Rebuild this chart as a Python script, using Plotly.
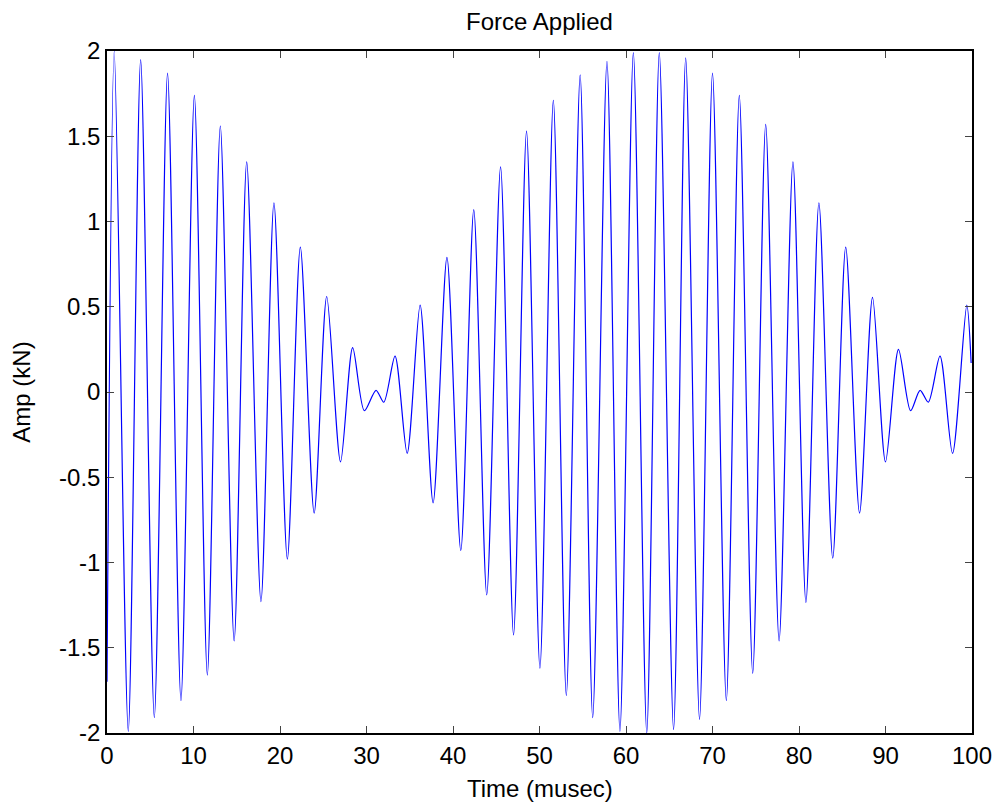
import plotly.graph_objects as go

# Extrema (time in musec, amplitude in kN)
time_us = [0, 0.84, 2.46, 3.89, 5.47, 7.0, 8.55, 10.1, 11.6, 13.1, 14.7, 16.15, 17.8, 19.3,
           20.85, 22.35, 23.95, 25.4, 27.0, 28.4, 29.75, 31.1, 32.0, 33.3, 34.7, 36.2, 37.7,
           39.3, 40.9, 42.4, 43.9, 45.5, 47.0, 48.5, 50.05, 51.6, 53.1, 54.7, 56.15, 57.8,
           59.3, 60.85, 62.4, 63.85, 65.5, 66.9, 68.5, 70.0, 71.6, 73.1, 74.65, 76.15, 77.7,
           79.3, 80.8, 82.3, 83.9, 85.4, 87.0, 88.5, 90.0, 91.5, 92.9, 94.0, 94.95, 96.3,
           97.75, 99.4, 99.9]
amp_kn = [-1.7, 2.0, -1.99, 1.95, -1.91, 1.87, -1.81, 1.74, -1.66, 1.56, -1.46, 1.35, -1.23,
          1.11, -0.98, 0.85, -0.71, 0.56, -0.41, 0.26, -0.11, 0.01, -0.06, 0.21, -0.36, 0.51,
          -0.65, 0.79, -0.93, 1.07, -1.19, 1.32, -1.425, 1.53, -1.62, 1.71, -1.78, 1.86,
          -1.91, 1.94, -1.99, 1.99, -2.0, 1.99, -1.98, 1.96, -1.92, 1.87, -1.81, 1.74, -1.65,
          1.57, -1.46, 1.35, -1.235, 1.11, -0.975, 0.85, -0.71, 0.555, -0.41, 0.25, -0.11,
          0.01, -0.06, 0.21, -0.36, 0.51, 0.17]

x_ticks = [0, 10, 20, 30, 40, 50, 60, 70, 80, 90, 100]
y_ticks = [-2, -1.5, -1, -0.5, 0, 0.5, 1, 1.5, 2]
y_labels = ["-2", "-1.5", "-1", "-0.5", "0", "0.5", "1", "1.5", "2"]

FAM = "Liberation Sans, Arial, sans-serif"
font = dict(family=FAM, size=24, color="black")

W, H = 997, 802
fig = go.Figure()
fig.add_trace(go.Scatter(x=time_us, y=amp_kn, mode="lines",
                         line=dict(color="#0000ff", width=1.2, shape="spline", smoothing=0.8),
                         showlegend=False, hoverinfo="x+y"))

axis_common = dict(showgrid=False, zeroline=False, showline=True, linecolor="black",
                   linewidth=1.5, mirror="ticks", ticks="inside", ticklen=7, tickcolor="#444",
                   tickwidth=1, tickfont=font, automargin=False)

fig.update_layout(
    width=W, height=H,
    margin=dict(l=107, r=25, t=51, b=69),
    paper_bgcolor="white", plot_bgcolor="white",
    font=font,
    title=dict(text="Force Applied", x=0.5, xref="paper", xanchor="center",
               y=1 - 22 / H, yref="container", yanchor="middle",
               font=dict(family=FAM, size=24, color="black")),
    xaxis=dict(range=[0, 100], tickvals=x_ticks, ticktext=[str(v) for v in x_ticks],
               **axis_common),
    yaxis=dict(range=[-2, 2], tickvals=y_ticks, ticktext=y_labels,
               title=dict(text="Amp (kN)", standoff=22, font=font), **axis_common),
    annotations=[dict(text="Time (musec)", x=0.5, y=0, xref="paper", yref="paper",
                      xanchor="center", yanchor="middle", yshift=-55, showarrow=False,
                      font=font)],
)

fig.write_html("out.html",
               config={"displayModeBar": False},
               post_script="document.body.style.margin='0';document.body.style.overflow='hidden';")
